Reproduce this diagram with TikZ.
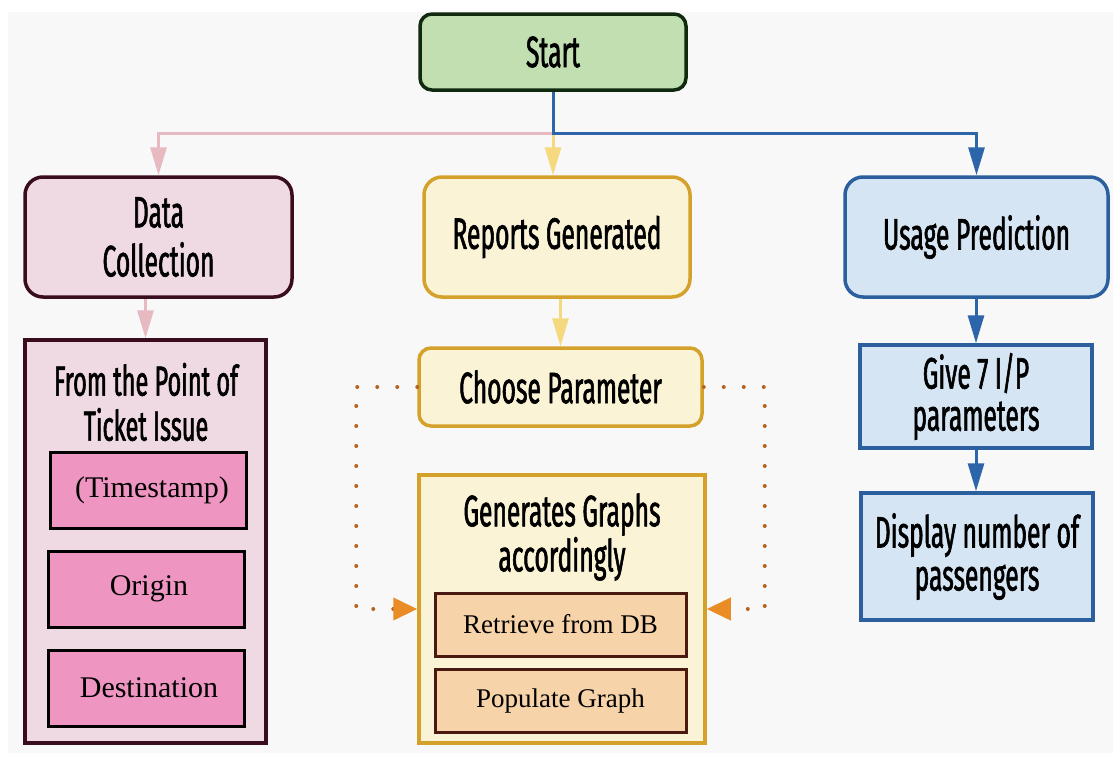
\documentclass[tikz,border=0pt]{standalone}
\usepackage{fontspec}
\setmainfont{Liberation Serif}
\newfontfamily\cond[FakeStretch=0.56,FakeBold=1.3]{Fira Sans}
\usetikzlibrary{arrows.meta}
\definecolor{startfill}{HTML}{C2DFB2}
\definecolor{startdraw}{HTML}{0F2A0F}
\definecolor{pinkfill}{HTML}{EFD9E2}
\definecolor{pinkdraw}{HTML}{3A0D1E}
\definecolor{pinkinner}{HTML}{EE95C2}
\definecolor{yelfill}{HTML}{FBF3D6}
\definecolor{yeldraw}{HTML}{D4A12A}
\definecolor{peach}{HTML}{F7D3A9}
\definecolor{peachdraw}{HTML}{4A1A10}
\definecolor{bluefill}{HTML}{D5E5F3}
\definecolor{bluedraw}{HTML}{2B5F9E}
\definecolor{pinkline}{HTML}{E7B9C1}
\definecolor{yelline}{HTML}{F4D97E}
\definecolor{blueline}{HTML}{2D65AA}
\definecolor{dotcol}{HTML}{B8621F}
\definecolor{dotarrow}{HTML}{E98C25}
\definecolor{bg}{HTML}{F8F8F8}
\tikzset{
  big/.style={font=\cond\fontsize{44}{48}\selectfont, align=center, text=black},
  mid/.style={font=\cond\fontsize{42}{45}\selectfont, align=center, text=black},
  ser/.style={font=\fontsize{30}{34}\selectfont, text=black},
  sersm/.style={font=\fontsize{27}{31}\selectfont, text=black},
  rbox/.style={draw, rounded corners=18pt, line width=3.5pt},
  sbox/.style={draw, line width=3.5pt},
  ibox/.style={draw, line width=3pt},
  conn/.style={line width=3pt, -{Triangle[width=16pt,length=28pt]}},
  dots/.style={dotcol, line width=4pt, line cap=round, dash pattern=on 0pt off 20pt,
     -{Triangle[width=22pt,length=24pt,color=dotarrow]}},
}
\begin{document}
\begin{tikzpicture}[x=1pt,y=-1pt]
\useasboundingbox (0,0) rectangle (1113,758);
\fill[white] (0,0) rectangle (1113,758);
\fill[bg] (8,12) rectangle (1113,753);

\node[rbox, rounded corners=12pt, fill=startfill, draw=startdraw, minimum width=266pt, minimum height=76pt, big] (start) at (553,52) {Start};
\node[rbox, fill=pinkfill, draw=pinkdraw, minimum width=267pt, minimum height=120pt, big, font=\cond\fontsize{44}{49}\selectfont] (dc) at (158.5,237) {Data\\Collection};
\node[rbox, fill=yelfill, draw=yeldraw, minimum width=266pt, minimum height=120pt, big] (rg) at (557,237) {Reports Generated};
\node[rbox, fill=bluefill, draw=bluedraw, minimum width=263pt, minimum height=120pt, big] (up) at (976.5,237) {Usage Prediction};

% left column
\node[sbox, fill=pinkfill, draw=pinkdraw, minimum width=241pt, minimum height=403pt] (dco) at (145.5,541.5) {};
\node[mid] (dct) at (146,402) {From the Point of\\Ticket Issue};
\node[ibox, fill=pinkinner, draw=black, minimum width=196pt, minimum height=76pt, ser] (ts) at (148,490) {\hspace{8pt}(Timestamp)};
\node[ibox, fill=pinkinner, draw=black, minimum width=196pt, minimum height=76pt, ser] (or) at (146,589) {\hspace{6pt}Origin};
\node[ibox, fill=pinkinner, draw=black, minimum width=196pt, minimum height=76pt, ser] (de) at (146,688) {\hspace{6pt}Destination};

% middle column
\node[rbox, rounded corners=12pt, fill=yelfill, draw=yeldraw, minimum width=283pt, minimum height=78pt, big] (cp) at (560.5,387) {Choose Parameter};
\node[sbox, fill=yelfill, draw=yeldraw, minimum width=286pt, minimum height=268pt] (gg) at (562,609) {};
\node[big, font=\cond\fontsize{44}{45}\selectfont] (ggt) at (562,537) {Generates Graphs\\accordingly};
\node[ibox, fill=peach, draw=peachdraw, minimum width=251pt, minimum height=63pt, sersm] (rd) at (560.5,624.5) {Retrieve from DB};
\node[ibox, fill=peach, draw=peachdraw, minimum width=251pt, minimum height=63pt, sersm] (pg) at (560.5,700.5) {Populate Graph};

% right column
\node[sbox, fill=bluefill, draw=bluedraw, minimum width=232pt, minimum height=103pt, big, font=\cond\fontsize{44}{42}\selectfont] (gi) at (976,396.5) {Give 7 I/P\\parameters};
\node[sbox, fill=bluefill, draw=bluedraw, minimum width=232pt, minimum height=127pt, big, font=\cond\fontsize{44}{43}\selectfont] (di) at (977,556.5) {Display number of\\passengers};

% connectors
\coordinate (j) at (start.south |- 0,133);
\draw[conn, pinkline] (j) -| (dc.north);
\draw[conn, yelline] (j) -- (start.south |- rg.north);
\draw[conn, blueline] (start.south) -- (j) -| (up.north);
\draw[conn, pinkline] (dc.south -| dco.north) -- (dco.north);
\draw[conn, yelline] (rg.south -| cp.north) -- (cp.north);
\draw[conn, blueline] (up.south -| gi.north) -- (gi.north);
\draw[conn, blueline] (gi.south) -- (gi.south |- di.north);

\draw[dots] (cp.west) -- ++(-61,0) |- (gg.west);
\draw[dots] (cp.east) -- ++(61,0) |- (gg.east);
\end{tikzpicture}
\end{document}
